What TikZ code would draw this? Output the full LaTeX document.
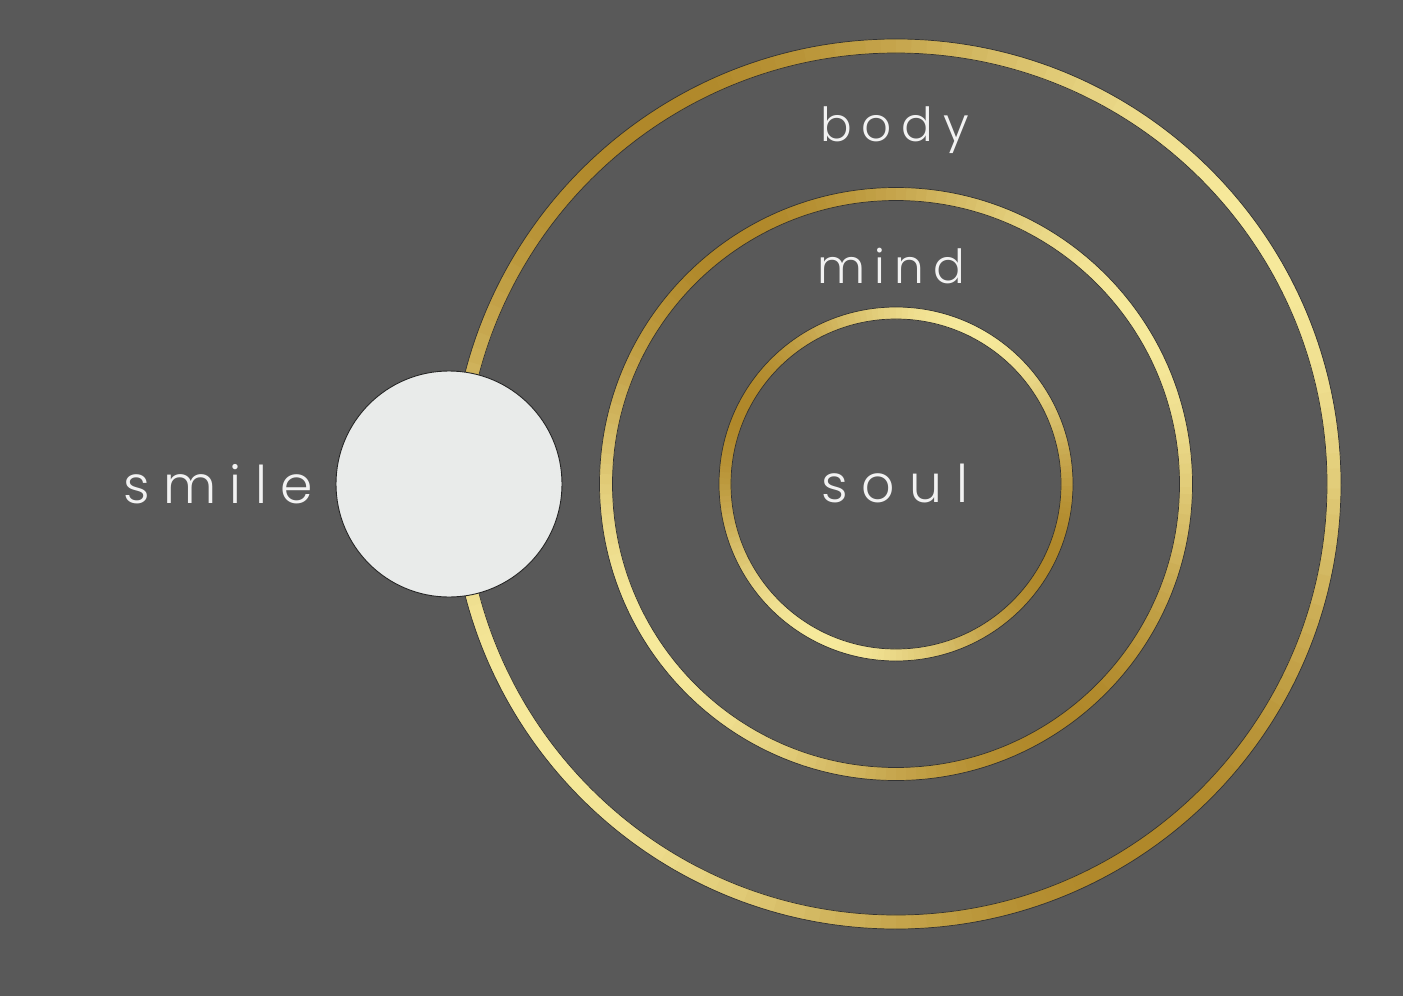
\documentclass[tikz,border=0pt]{standalone}
\usepackage{fontspec}
\newfontfamily\thinf{Poppins Light}
\definecolor{bg}{HTML}{595959}
\definecolor{glight}{HTML}{F7EA9C}
\definecolor{gdark}{HTML}{B0882A}
\definecolor{moon}{HTML}{E9EBEA}
\definecolor{txt}{HTML}{F2F2F2}
\tikzset{
  lbl/.style={inner sep=0pt, anchor=base west, text=txt},
  moonstyle/.style={circle, fill=moon, draw=black!85, line width=0.9pt, minimum size=226pt, inner sep=0pt},
}
\newcommand{\goldring}[4]{% center, radius, width, phase
  \foreach \a in {0,2,...,358}{
    \pgfmathtruncatemacro\t{50+50*cos(2*(\a+#4))}
    \colorlet{segc}{glight!\t!gdark}
    \draw[segc, line width=#3pt] ([shift={(\a:#2)}]#1) arc[start angle=\a, end angle=\a+2.6, radius=#2];
  }
  \draw[black!80, line width=0.7pt] (#1) circle[radius=#2+#3/2];
  \draw[black!80, line width=0.7pt] (#1) circle[radius=#2-#3/2];
}
\newcommand{\lblfont}[2]{\thinf\addfontfeature{LetterSpace=#2}\fontsize{#1}{#1}\selectfont}
\begin{document}
\begin{tikzpicture}[x=1pt, y=-1pt]
\fill[bg] (0,0) rectangle (1403,996);
\useasboundingbox (0,0) rectangle (1403,996);
\coordinate (c) at (896,484);
\goldring{c}{438}{14}{35}
\goldring{c}{290}{13}{35}
\goldring{c}{171}{12}{65}
\node[moonstyle] (moon) at (449,484) {};
\node[lbl, font=\lblfont{52}{26}] (smile) at (123,503) {smile};
\node[lbl, font=\lblfont{47}{21}] (body) at (820,141) {body};
\node[lbl, font=\lblfont{47}{20}] (mind) at (817,283) {mind};
\node[lbl, font=\lblfont{52}{27}] (soul) at (821,502) {soul};
\end{tikzpicture}
\end{document}
